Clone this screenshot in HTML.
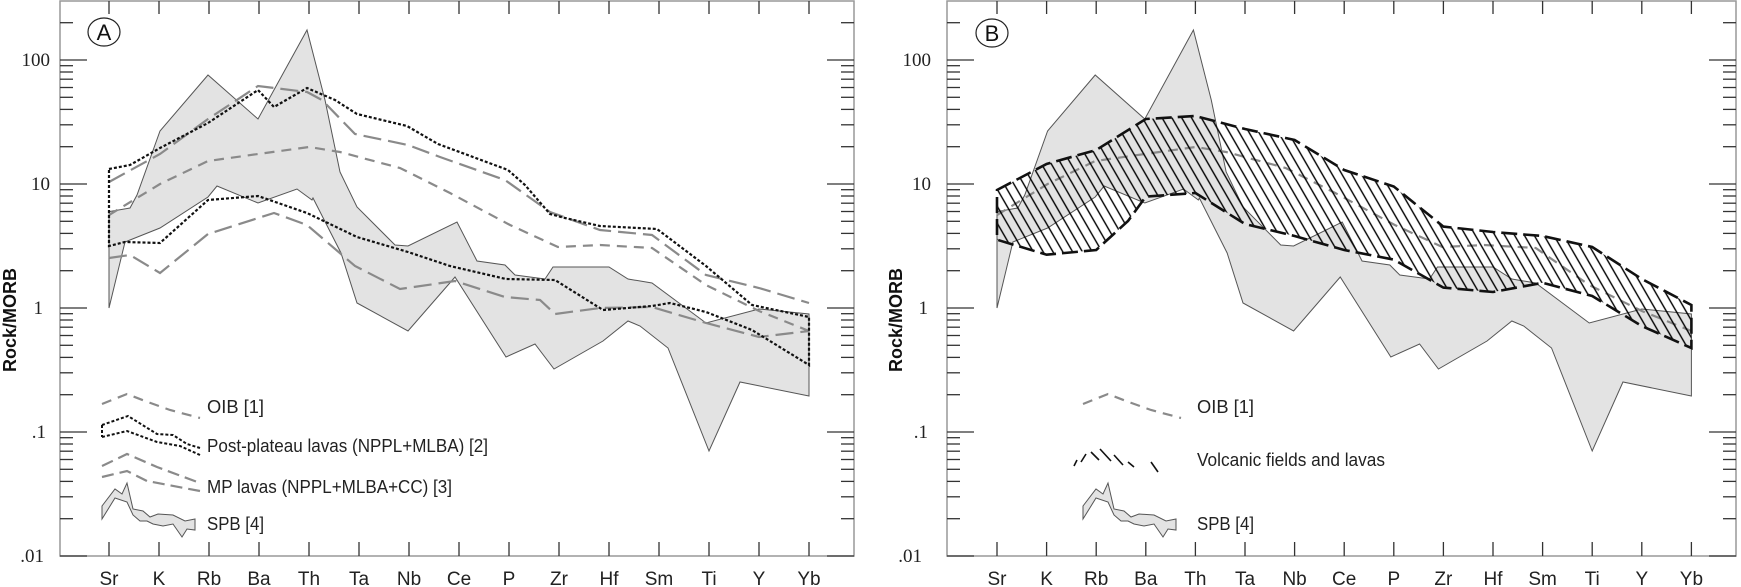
<!DOCTYPE html>
<html><head><meta charset="utf-8"><style>
html,body{margin:0;padding:0;background:#fff;}
svg{display:block;}
</style></head><body>
<svg width="1741" height="587" viewBox="0 0 1741 587" xmlns="http://www.w3.org/2000/svg" font-family="Liberation Sans, sans-serif">
<defs>
<g id="dec" stroke="#333" stroke-width="1.3">
<line x1="0" y1="0" x2="27" y2="0"/>
<line x1="0" y1="-37.3" x2="13" y2="-37.3"/>
<line x1="0" y1="-59.2" x2="13" y2="-59.2"/>
<line x1="0" y1="-74.6" x2="13" y2="-74.6"/>
<line x1="0" y1="-86.7" x2="13" y2="-86.7"/>
<line x1="0" y1="-96.5" x2="13" y2="-96.5"/>
<line x1="0" y1="-104.8" x2="13" y2="-104.8"/>
<line x1="0" y1="-112" x2="13" y2="-112"/>
<line x1="0" y1="-118.3" x2="13" y2="-118.3"/>
</g>
<g id="yt">
<use href="#dec" y="556"/><use href="#dec" y="432"/><use href="#dec" y="308"/><use href="#dec" y="184"/>
<line x1="0" y1="60" x2="27" y2="60" stroke="#333" stroke-width="1.3"/>
<line x1="0" y1="22.7" x2="13" y2="22.7" stroke="#333" stroke-width="1.3"/>
</g>
<g id="grey">
<polygon fill="#e3e3e3" stroke="#555" stroke-width="1" points="109,211.6 130,208 137,195 160,131 208,75 258,119 307,30 325,100 340,172 357,207 395,245 408,246 457,222 477,261 505,265 515,275 545,279 553,267 609,267 628,279 652,283 706,323 759,309 809,314 809,396 740,382 709,451 668,348 640,326 628,321 603,341 554,369 535,344 506,357 455,277 408,331 357,303 341,253 313,198 312,200 297,189 258,203 217,186 208,197 160,228 125,242 109,308"/>
<polyline fill="none" stroke="#8a8a8a" stroke-width="2.2" stroke-dasharray="10 7" points="109,215 160,184 208,161 258,154 309,147 340,152 400,168 450,193 510,225 558,247 600,245 652,248 706,285 759,311 809,331"/>
</g>
<g id="spbleg">
<polygon fill="#e3e3e3" stroke="#555" stroke-width="1" points="102,506 115,489 122,494 127,483 133,509 143,511 150,517 158,514 173,515 185,521 195,519 195,530 187,529 182,537 173,524 163,526 153,524 147,521 140,521 133,515 127,502 115,498 102,519"/>
</g>
<g id="oibleg">
<polyline fill="none" stroke="#8a8a8a" stroke-width="2.2" stroke-dasharray="10 7" points="102,404 127,394 145,401 170,410 200,418"/>
</g>
<pattern id="hatch" width="8.5" height="10" patternUnits="userSpaceOnUse" patternTransform="rotate(-30)">
<line x1="4" y1="0" x2="4" y2="10" stroke="#000" stroke-width="1.4"/>
</pattern>
</defs>

<!-- PANEL A -->
<rect x="60" y="1" width="794" height="555" fill="none" stroke="#999" stroke-width="1.5"/>
<use href="#yt" x="60"/>
<use href="#yt" transform="translate(854,0) scale(-1,1)"/>
<g stroke="#333" stroke-width="1.3">
<path d="M109,556v-14M159,556v-14M209,556v-14M259,556v-14M309,556v-14M359,556v-14M409,556v-14M459,556v-14M509,556v-14M559,556v-14M609,556v-14M659,556v-14M709,556v-14M759,556v-14M809,556v-14"/>
<path d="M109,1v13M159,1v13M209,1v13M259,1v13M309,1v13M359,1v13M409,1v13M459,1v13M509,1v13M559,1v13M609,1v13M659,1v13M709,1v13M759,1v13M809,1v13"/>
</g>
<use href="#grey"/>
<polyline fill="none" stroke="#8a8a8a" stroke-width="2.2" stroke-dasharray="18 7" points="109,182 160,154 208,119 258,86 307,92 322,100 355,134 408,145 440,157 505,180 550,212 600,230 652,235 706,275 759,288 809,303"/>
<polyline fill="none" stroke="#8a8a8a" stroke-width="2.2" stroke-dasharray="18 7" points="109,258 130,255 160,273 208,234 274,213 307,225 355,266 400,289 455,281 505,297 540,300 555,314 600,308 652,307 706,323 759,337 809,331"/>
<polygon fill="none" stroke="#111" stroke-width="2.2" stroke-dasharray="3 2" points="109,169 130,165 160,148 208,123 258,90 274,107 307,88 335,100 357,114 407,126 438,144 508,170 525,185 550,214 565,218 600,226 657,229 706,266 752,305 809,317 809,365 752,330 706,312 670,303 652,306 603,310 555,280 506,279 450,266 408,252 357,237 307,213 258,196 208,200 160,243 125,242 109,246"/>
<!-- legend A -->
<use href="#oibleg"/>
<polyline fill="none" stroke="#111" stroke-width="2" stroke-dasharray="3 2" points="102,425 128,416 157,434 173,435 187,444 200,448"/>
<polyline fill="none" stroke="#111" stroke-width="2" stroke-dasharray="3 2" points="102,437 127,431 157,442 180,446 200,455"/>
<path d="M102,425V437" stroke="#111" stroke-width="2" stroke-dasharray="3 2"/>
<polyline fill="none" stroke="#8a8a8a" stroke-width="2.2" stroke-dasharray="12 6" points="102,466 127,454 157,467 200,483"/>
<polyline fill="none" stroke="#8a8a8a" stroke-width="2.2" stroke-dasharray="12 6" points="102,477 127,471 147,481 200,491"/>
<use href="#spbleg"/>
<g font-size="18" fill="#222">
<text x="207" y="413" textLength="57" lengthAdjust="spacingAndGlyphs">OIB [1]</text>
<text x="207" y="452" textLength="281" lengthAdjust="spacingAndGlyphs">Post-plateau lavas (NPPL+MLBA) [2]</text>
<text x="207" y="493" textLength="245" lengthAdjust="spacingAndGlyphs">MP lavas (NPPL+MLBA+CC) [3]</text>
<text x="207" y="530" textLength="57" lengthAdjust="spacingAndGlyphs">SPB [4]</text>
</g>
<ellipse cx="104" cy="32" rx="16" ry="14" fill="#fff" stroke="#222" stroke-width="1.2"/>
<text x="104" y="40" font-size="22" text-anchor="middle" fill="#111">A</text>
<g font-family="Liberation Serif, serif" font-size="19" fill="#222" text-anchor="end">
<text x="50" y="66">100</text><text x="50" y="190">10</text><text x="43" y="314">1</text><text x="46" y="438">.1</text><text x="44" y="562">.01</text>
</g>
<text transform="translate(16,320) rotate(-90)" font-size="18" font-weight="bold" text-anchor="middle" fill="#111">Rock/MORB</text>
<g font-size="19" fill="#222" text-anchor="middle">
<text x="109" y="585">Sr</text><text x="159" y="585">K</text><text x="209" y="585">Rb</text><text x="259" y="585">Ba</text><text x="309" y="585">Th</text><text x="359" y="585">Ta</text><text x="409" y="585">Nb</text><text x="459" y="585">Ce</text><text x="509" y="585">P</text><text x="559" y="585">Zr</text><text x="609" y="585">Hf</text><text x="659" y="585">Sm</text><text x="709" y="585">Ti</text><text x="759" y="585">Y</text><text x="809" y="585">Yb</text>
</g>

<!-- PANEL B -->
<rect x="947" y="1" width="789" height="555" fill="none" stroke="#999" stroke-width="1.5"/>
<use href="#yt" x="947"/>
<use href="#yt" transform="translate(1736,0) scale(-1,1)"/>
<g stroke="#333" stroke-width="1.3">
<path d="M997,556v-14M1046.6,556v-14M1096.2,556v-14M1145.8,556v-14M1195.4,556v-14M1245,556v-14M1294.6,556v-14M1344.2,556v-14M1393.8,556v-14M1443.4,556v-14M1493,556v-14M1542.6,556v-14M1592.2,556v-14M1641.8,556v-14M1691.4,556v-14"/>
<path d="M997,1v13M1046.6,1v13M1096.2,1v13M1145.8,1v13M1195.4,1v13M1245,1v13M1294.6,1v13M1344.2,1v13M1393.8,1v13M1443.4,1v13M1493,1v13M1542.6,1v13M1592.2,1v13M1641.8,1v13M1691.4,1v13"/>
</g>
<use href="#grey" transform="translate(997,0) scale(0.992,1) translate(-109,0)"/>
<polygon fill="url(#hatch)" stroke="#111" stroke-width="2.6" stroke-dasharray="16 6" points="997,190 1046.6,164 1096.2,150 1145.8,119 1195.4,116 1245,129 1294.6,140 1344.2,170 1393.8,186.5 1443.4,226.6 1493,232 1542.6,236 1592.2,247 1641.8,279 1691.4,305 1691.4,348 1641.8,326 1592.2,296 1542.6,282.8 1493,292 1443.4,287.6 1393.8,259.6 1344.2,250 1294.6,236 1245,224 1195.4,193 1145.8,196.6 1128,221 1096.2,250 1046.6,254.7 997,239.7"/>
<!-- legend B -->
<use href="#oibleg" transform="translate(981,0)"/>
<g stroke="#111" stroke-width="1.6">
<line x1="1074" y1="466" x2="1077" y2="460"/><line x1="1081" y1="462" x2="1086" y2="454"/>
<line x1="1091" y1="452" x2="1099" y2="460"/><line x1="1100" y1="449" x2="1111" y2="461"/>
<line x1="1114" y1="455" x2="1123" y2="465"/><line x1="1128" y1="462" x2="1134" y2="467"/>
<line x1="1151" y1="462" x2="1158" y2="472"/>
</g>
<use href="#spbleg" transform="translate(981,0)"/>
<g font-size="18" fill="#222">
<text x="1197" y="413" textLength="57" lengthAdjust="spacingAndGlyphs">OIB [1]</text>
<text x="1197" y="466" textLength="188" lengthAdjust="spacingAndGlyphs">Volcanic fields and lavas</text>
<text x="1197" y="530" textLength="57" lengthAdjust="spacingAndGlyphs">SPB [4]</text>
</g>
<ellipse cx="992" cy="33" rx="16" ry="14" fill="#fff" stroke="#222" stroke-width="1.2"/>
<text x="992" y="41" font-size="22" text-anchor="middle" fill="#111">B</text>
<g font-family="Liberation Serif, serif" font-size="19" fill="#222" text-anchor="end">
<text x="931" y="66">100</text><text x="931" y="190">10</text><text x="928" y="314">1</text><text x="928" y="438">.1</text><text x="922" y="562">.01</text>
</g>
<text transform="translate(902,320) rotate(-90)" font-size="18" font-weight="bold" text-anchor="middle" fill="#111">Rock/MORB</text>
<g font-size="19" fill="#222" text-anchor="middle">
<text x="997" y="585">Sr</text><text x="1046.6" y="585">K</text><text x="1096.2" y="585">Rb</text><text x="1145.8" y="585">Ba</text><text x="1195.4" y="585">Th</text><text x="1245" y="585">Ta</text><text x="1294.6" y="585">Nb</text><text x="1344.2" y="585">Ce</text><text x="1393.8" y="585">P</text><text x="1443.4" y="585">Zr</text><text x="1493" y="585">Hf</text><text x="1542.6" y="585">Sm</text><text x="1592.2" y="585">Ti</text><text x="1641.8" y="585">Y</text><text x="1691.4" y="585">Yb</text>
</g>
</svg>
</body></html>
